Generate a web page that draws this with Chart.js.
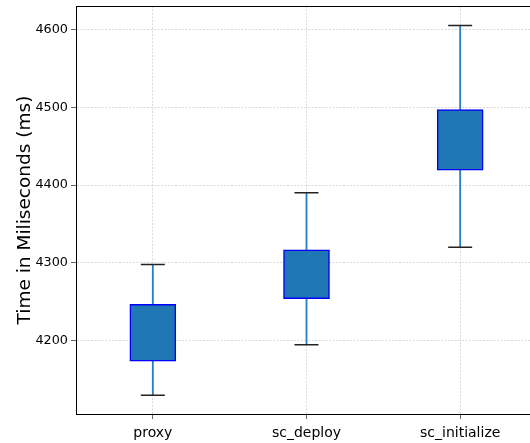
<!DOCTYPE html>
<html>
<head>
<meta charset="utf-8">
<script src="https://cdn.jsdelivr.net/npm/chart.js@4"></script>
<style>
  html, body { margin: 0; padding: 0; background: #fff; overflow: hidden; }
</style>
</head>
<body>
<canvas id="chart" width="540" height="443"></canvas>
<script>
// box plot stats
const categories = ['proxy', 'sc_deploy', 'sc_initialize'];
const whiskerLow = [4130, 4195, 4320];
const boxLow = [4174, 4254, 4419];
const boxHigh = [4247, 4317, 4497];
const whiskerHigh = [4298, 4390, 4605];
const yTicks = [4200, 4300, 4400, 4500, 4600];

const GRID = 'rgba(170,170,170,0.75)';

// black frame around the plot area
const framePlugin = {
    id: 'frame',
    afterDraw(chart) {
        const { ctx, chartArea: a } = chart;
        ctx.save();
        ctx.strokeStyle = '#000';
        ctx.lineWidth = 1;
        ctx.strokeRect(a.left + 0.5, a.top + 0.5, a.right - a.left, a.bottom - a.top);
        ctx.restore();
    }
};

new Chart(document.getElementById('chart'), {
    type: 'bar',
    data: {
        labels: categories,
        datasets: [
            {
                label: 'whisker',
                data: categories.map((c, i) => [whiskerLow[i], whiskerHigh[i]]),
                backgroundColor: '#2a80c4',
                barThickness: 1.2,
                grouped: false,
                order: 3
            },
            {
                label: 'box',
                data: categories.map((c, i) => [boxLow[i], boxHigh[i]]),
                backgroundColor: '#1f77b4',
                borderColor: '#0000ff',
                borderWidth: 1.5,
                borderSkipped: false,
                barThickness: 46,
                grouped: false,
                order: 2
            },
            {
                type: 'line',
                label: 'capHigh',
                data: whiskerHigh,
                showLine: false,
                pointStyle: 'line',
                pointRadius: 12,
                borderColor: '#222',
                borderWidth: 1.5,
                order: 1
            },
            {
                type: 'line',
                label: 'capLow',
                data: whiskerLow,
                showLine: false,
                pointStyle: 'line',
                pointRadius: 12,
                borderColor: '#222',
                borderWidth: 1.5,
                order: 1
            }
        ]
    },
    options: {
        responsive: false,
        animation: false,
        layout: { autoPadding: false, padding: { top: 6, right: 3, left: 0, bottom: 0 } },
        plugins: {
            legend: { display: false },
            tooltip: { enabled: false }
        },
        scales: {
            x: {
                grid: {
                    offset: false,
                    color: GRID,
                    lineWidth: 0.6,
                    tickLength: 5,
                    tickColor: '#000'
                },
                border: { color: '#000', dash: [2, 1.5] },
                ticks: {
                    color: '#000',
                    font: { family: 'DejaVu Sans', size: 14 },
                    padding: 6
                },
                afterFit: s => {
                    s.height = 29;
                    s.paddingLeft = 0;
                    s.paddingRight = 0;
                }
            },
            y: {
                min: 4106,
                max: 4630,
                afterBuildTicks: s => { s.ticks = yTicks.map(v => ({ value: v })); },
                grid: {
                    color: GRID,
                    lineWidth: 0.6,
                    tickLength: 5,
                    tickColor: '#000'
                },
                border: { color: '#000', dash: [2, 1.5] },
                ticks: {
                    color: '#000',
                    font: { family: 'DejaVu Sans', size: 12.8 },
                    padding: 3,
                    callback: v => String(v)
                },
                title: {
                    display: true,
                    text: 'Time in Miliseconds (ms)',
                    color: '#000',
                    font: { family: 'DejaVu Sans', size: 18.5 },
                    padding: { top: 14, bottom: 0 }
                },
                afterFit: s => {
                    s.width = 76;
                    s.paddingTop = 0;
                    s.paddingBottom = 0;
                }
            }
        }
    },
    plugins: [framePlugin]
});
</script>
</body>
</html>
